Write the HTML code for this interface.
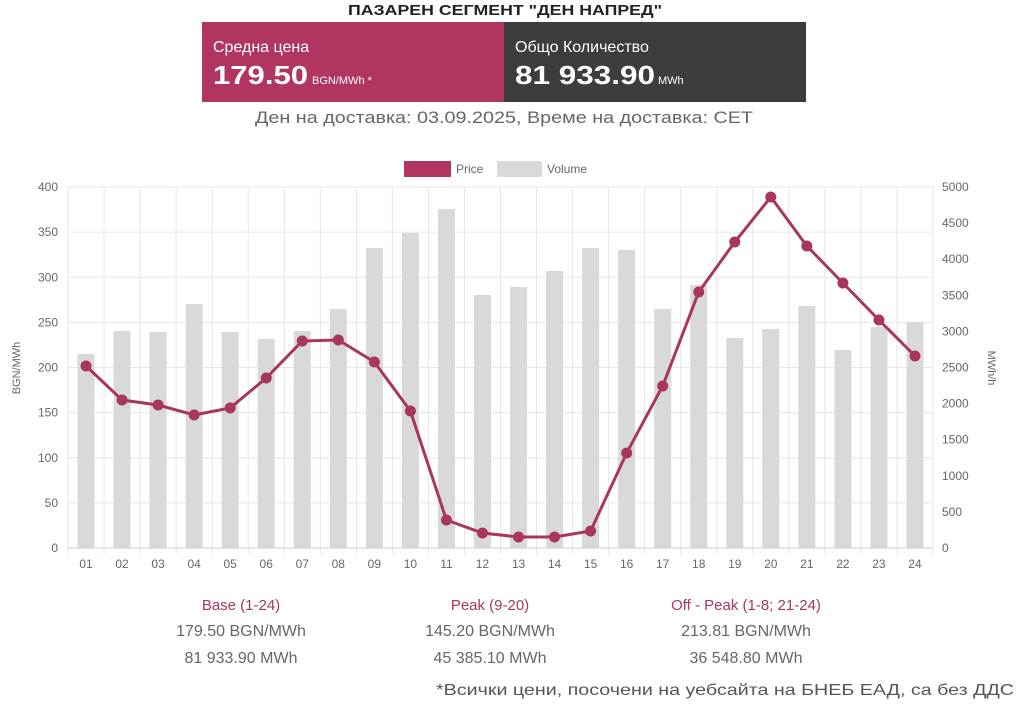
<!DOCTYPE html>
<html><head><meta charset="utf-8"><style>
html,body{margin:0;padding:0;background:#fff;width:1024px;height:704px;overflow:hidden}
svg text{font-family:"Liberation Sans","DejaVu Sans",sans-serif}
</style></head><body>
<svg id="s" width="1024" height="704" xmlns="http://www.w3.org/2000/svg">
<text x="505" y="15" text-anchor="middle" font-size="15" font-weight="bold" fill="#222" textLength="314" lengthAdjust="spacingAndGlyphs">ПАЗАРЕН СЕГМЕНТ "ДЕН НАПРЕД"</text>
<rect x="202" y="22" width="302" height="80" fill="#b03560"/>
<rect x="504" y="22" width="302" height="80" fill="#3d3d3f"/>
<text x="213" y="52" font-size="16" fill="#fff">Средна цена</text>
<text x="213" y="84" font-size="26" font-weight="bold" fill="#fff" textLength="95" lengthAdjust="spacingAndGlyphs">179.50</text>
<text x="312" y="84" font-size="11" fill="#fff">BGN/MWh *</text>
<text x="515" y="52" font-size="16" fill="#fff">Общо Количество</text>
<text x="515" y="84" font-size="26" font-weight="bold" fill="#fff" textLength="140" lengthAdjust="spacingAndGlyphs">81 933.90</text>
<text x="658" y="84" font-size="11" fill="#fff">MWh</text>
<text x="504" y="123" text-anchor="middle" font-size="17" fill="#666" textLength="498" lengthAdjust="spacingAndGlyphs">Ден на доставка: 03.09.2025, Време на доставка: CET</text>
<rect x="404" y="161" width="47" height="16" fill="#b03560"/>
<text x="456" y="173" font-size="12" fill="#666">Price</text>
<rect x="497" y="161" width="45" height="16" fill="#d9d9d9"/>
<text x="547" y="173" font-size="12" fill="#666">Volume</text>
<g id="chart"></g>
<text transform="translate(20,368) rotate(-90)" text-anchor="middle" font-size="11" fill="#666">BGN/MWh</text>
<text transform="translate(988,368) rotate(90)" text-anchor="middle" font-size="11" fill="#666">MWh/h</text>
<g font-size="15" text-anchor="middle">
<text x="241" y="610" fill="#a8365f">Base (1-24)</text>
<text x="241" y="636" fill="#666" font-size="16">179.50 BGN/MWh</text>
<text x="241" y="663" fill="#666" font-size="16">81 933.90 MWh</text>
<text x="490" y="610" fill="#a8365f">Peak (9-20)</text>
<text x="490" y="636" fill="#666" font-size="16">145.20 BGN/MWh</text>
<text x="490" y="663" fill="#666" font-size="16">45 385.10 MWh</text>
<text x="746" y="610" fill="#a8365f">Off - Peak (1-8; 21-24)</text>
<text x="746" y="636" fill="#666" font-size="16">213.81 BGN/MWh</text>
<text x="746" y="663" fill="#666" font-size="16">36 548.80 MWh</text>
</g>
<text x="1014" y="695" text-anchor="end" font-size="16" fill="#555" textLength="578" lengthAdjust="spacingAndGlyphs">*Всички цени, посочени на уебсайта на БНЕБ ЕАД, са без ДДС</text>
</svg>
<script>
var g=document.getElementById('chart'),h='';
var L=68,R=933,T=187,B=548,W=(R-L)/24;
for(var k=0;k<=8;k++){var y=B-k*(B-T)/8;h+='<line x1="'+L+'" x2="'+R+'" y1="'+y+'" y2="'+y+'" stroke="#e6e6e6"/>';h+='<text x="58" y="'+(y+4)+'" text-anchor="end" font-size="12" fill="#666">'+k*50+'</text>';}
for(var k=0;k<=10;k++){var y=B-k*(B-T)/10;h+='<text x="942" y="'+(y+4)+'" font-size="12" fill="#666">'+k*500+'</text>';}
for(var i=0;i<=24;i++){var x=L+i*W;h+='<line x1="'+x+'" x2="'+x+'" y1="'+T+'" y2="'+(B+6)+'" stroke="#e6e6e6"/>';}
var vt=[354,331,332,304,332,339,331,309,248,233,209,295,287,271,248,250,309,285,338,329,306,350,327,322];
var py=[366,400,405,415,408,378,341,340,362,411,520,533,537,537,531,453,386,292,242,197,246,283,320,356];
var pts=[];
for(var i=0;i<24;i++){var cx=L+W*(i+0.5);h+='<rect x="'+(cx-8.5)+'" y="'+vt[i]+'" width="17" height="'+(B-vt[i])+'" fill="#d9d9d9"/>';
h+='<text x="'+cx+'" y="568" text-anchor="middle" font-size="12" fill="#666">'+(i<9?'0':'')+(i+1)+'</text>';pts.push(cx+','+py[i]);}
h+='<line x1="'+L+'" x2="'+R+'" y1="'+B+'" y2="'+B+'" stroke="#ccc"/>';
h+='<polyline points="'+pts.join(' ')+'" fill="none" stroke="#a8365f" stroke-width="3"/>';
for(var i=0;i<24;i++){h+='<circle cx="'+(L+W*(i+0.5))+'" cy="'+py[i]+'" r="5.5" fill="#a8365f"/>';}
g.innerHTML=h;
</script>
</body></html>
